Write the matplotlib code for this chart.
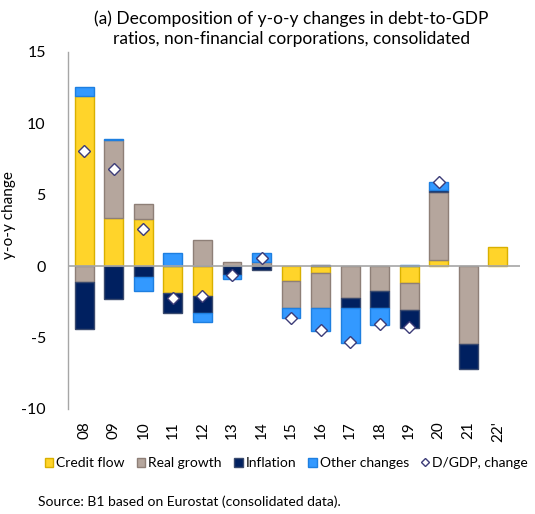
import matplotlib
matplotlib.use("Agg")
import matplotlib.pyplot as plt
import numpy as np

plt.rcParams['font.family'] = ['Lato', 'DejaVu Sans']

years = ["08", "09", "10", "11", "12", "13", "14", "15", "16", "17", "18", "19", "20", "21", "22'"]
credit_flow = [11.9, 3.4, 3.3, -1.85, -2.1, 0.0, 0.05, -1.02, -0.45, 0.0, 0.0, -1.2, 0.46, 0.0, 1.32]
real_growth = [-1.1, 5.47, 1.03, 0.0, 1.8, 0.28, 0.23, -1.9, -2.5, -2.2, -1.72, -1.9, 4.77, -5.44, 0.0]
inflation = [-3.3, -2.27, -0.75, -1.4, -1.17, -0.65, -0.25, 0.0, 0.08, -0.75, -1.2, -1.2, 0.1, -1.78, 0.0]
other_changes = [0.63, 0.07, -1.0, 0.95, -0.63, -0.28, 0.62, -0.7, -1.6, -2.4, -1.2, 0.1, 0.6, 0.0, 0.0]
dgdp_change = [8.1, 6.83, 2.64, -2.25, -2.07, -0.6, 0.55, -3.65, -4.5, -5.3, -4.05, -4.25, 5.9, np.nan, np.nan]

series = [
    ("Credit flow", credit_flow, "#FFD42A", "#D9B000"),
    ("Real growth", real_growth, "#B5A69D", "#8E7F77"),
    ("Inflation", inflation, "#002060", "#3A4A6E"),
    ("Other changes", other_changes, "#3399FF", "#1E7FE0"),
]

fig = plt.figure(figsize=(5.35, 5.14), dpi=100)
ax = fig.add_axes([68/535, 1 - 409/514, (520-68)/535, (409-52)/514])

x = np.arange(len(years))
pos_bottom = np.zeros(len(years))
neg_bottom = np.zeros(len(years))
handles = []
for name, vals, fc, ec in series:
    v = np.array(vals, dtype=float)
    bottoms = np.where(v >= 0, pos_bottom, neg_bottom)
    nz = v != 0
    ax.bar(x[nz], v[nz], width=0.64, bottom=bottoms[nz], color=fc, edgecolor=ec,
           linewidth=1.0, zorder=2)
    handles.append(plt.Rectangle((0, 0), 1, 1, facecolor=fc, edgecolor=ec, linewidth=1.0, label=name))
    pos_bottom += np.where(v >= 0, v, 0)
    neg_bottom += np.where(v < 0, v, 0)

d = ax.plot(x, dgdp_change, linestyle='none', marker='D', markersize=6.5,
            markerfacecolor='white', markeredgecolor='#3C3C78', markeredgewidth=1.0,
            label='D/GDP, change', zorder=4)[0]

ax.axhline(0, color='#A6A6A6', linewidth=1.2, zorder=3)
ax.set_ylim(-10, 15)
ax.set_xlim(-0.55, 14.75)
ax.set_yticks([-10, -5, 0, 5, 10, 15])
ax.set_yticklabels(["-10", "-5", "0", "5", "10", "15"], fontsize=11.5)
ax.set_xticks(x)
ax.set_xticklabels(years, rotation=90, fontsize=11)
ax.tick_params(axis='both', length=0)
ax.tick_params(axis='y', pad=16)
ax.tick_params(axis='x', pad=9)
for s in ['top', 'right', 'bottom']:
    ax.spines[s].set_visible(False)
ax.spines['left'].set_color('#A6A6A6')
ax.spines['left'].set_linewidth(1.0)
ax.set_ylabel("y-o-y change", fontsize=11)
ax.yaxis.set_label_coords((16 - 68) / (520 - 68), (409 - 215) / (409 - 52))

fig.text(0.545, 1 - 29/514, "(a) Decomposition of y-o-y changes in debt-to-GDP\nratios, non-financial corporations, consolidated",
         ha='center', va='center', fontsize=12.5, linespacing=1.3)

fig.legend(handles=handles + [d], labels=[h.get_label() for h in handles] + ['D/GDP, change'],
           loc='center left', bbox_to_anchor=(45/535, 1 - 463/514), ncol=5, frameon=False,
           fontsize=10, handlelength=0.6, handleheight=0.6, handletextpad=0.2,
           columnspacing=0.9, markerscale=0.7, borderpad=0, borderaxespad=0)

fig.text(38/535, 1 - 502/514, "Source: B1 based on Eurostat (consolidated data).",
         ha='left', va='center', fontsize=10)

fig.savefig("out.png", dpi=100)
